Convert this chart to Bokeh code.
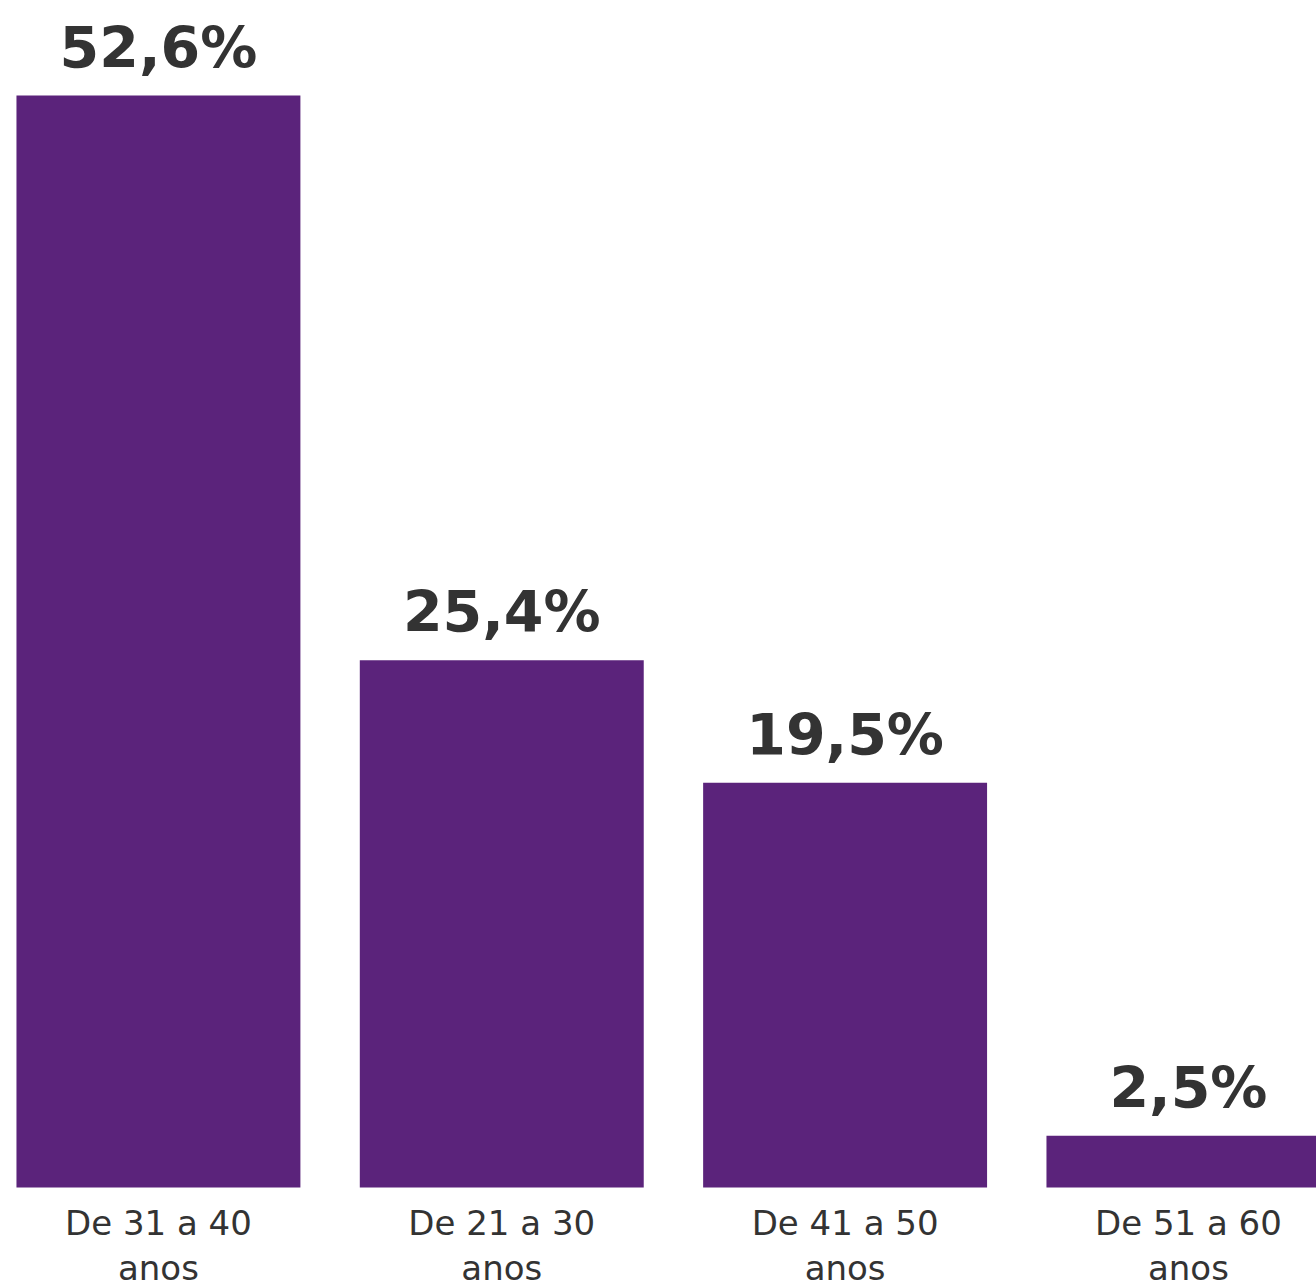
from bokeh.plotting import figure
from bokeh.models import Range1d, ColumnDataSource
from bokeh.core.properties import value
from bokeh.embed import file_html
from bokeh.resources import INLINE

categories = ["De 31 a 40\nanos", "De 21 a 30\nanos", "De 41 a 50\nanos", "De 51 a 60\nanos"]
values = [52.6, 25.4, 19.5, 2.5]
value_labels = ["52,6%", "25,4%", "19,5%", "2,5%"]

xs = list(range(len(categories)))
line1 = [c.split("\n")[0] for c in categories]
line2 = [c.split("\n")[1] for c in categories]

src = ColumnDataSource(dict(x=xs, top=values, lab=value_labels, l1=line1, l2=line2,
                            zero=[0] * len(xs)))

p = figure(width=1316, height=1284, output_backend="svg", toolbar_location=None,
           x_range=Range1d(-0.460, 3.373), y_range=Range1d(-4.67, 57.18),
           min_border=0, outline_line_color=None, background_fill_color="white",
           border_fill_color="white")
p.axis.visible = False
p.grid.visible = False

p.vbar(x="x", top="top", bottom=0, width=0.827, source=src,
       fill_color="#5B237B", line_color=None)

p.text(x="x", y="top", text="lab", source=src, text_align="center",
       text_baseline="alphabetic", y_offset=-48,
       text_font=value("DejaVu Sans"), text_font_style="bold",
       text_font_size="57px", text_color="#333333")

p.text(x="x", y="zero", text="l1", source=src, text_align="center",
       text_baseline="alphabetic", y_offset=35,
       text_font=value("DejaVu Sans"), text_font_size="34px", text_color="#333333")
p.text(x="x", y="zero", text="l2", source=src, text_align="center",
       text_baseline="alphabetic", y_offset=80,
       text_font=value("DejaVu Sans"), text_font_size="34px", text_color="#333333")

open("out.html", "w").write(file_html(p, INLINE))
